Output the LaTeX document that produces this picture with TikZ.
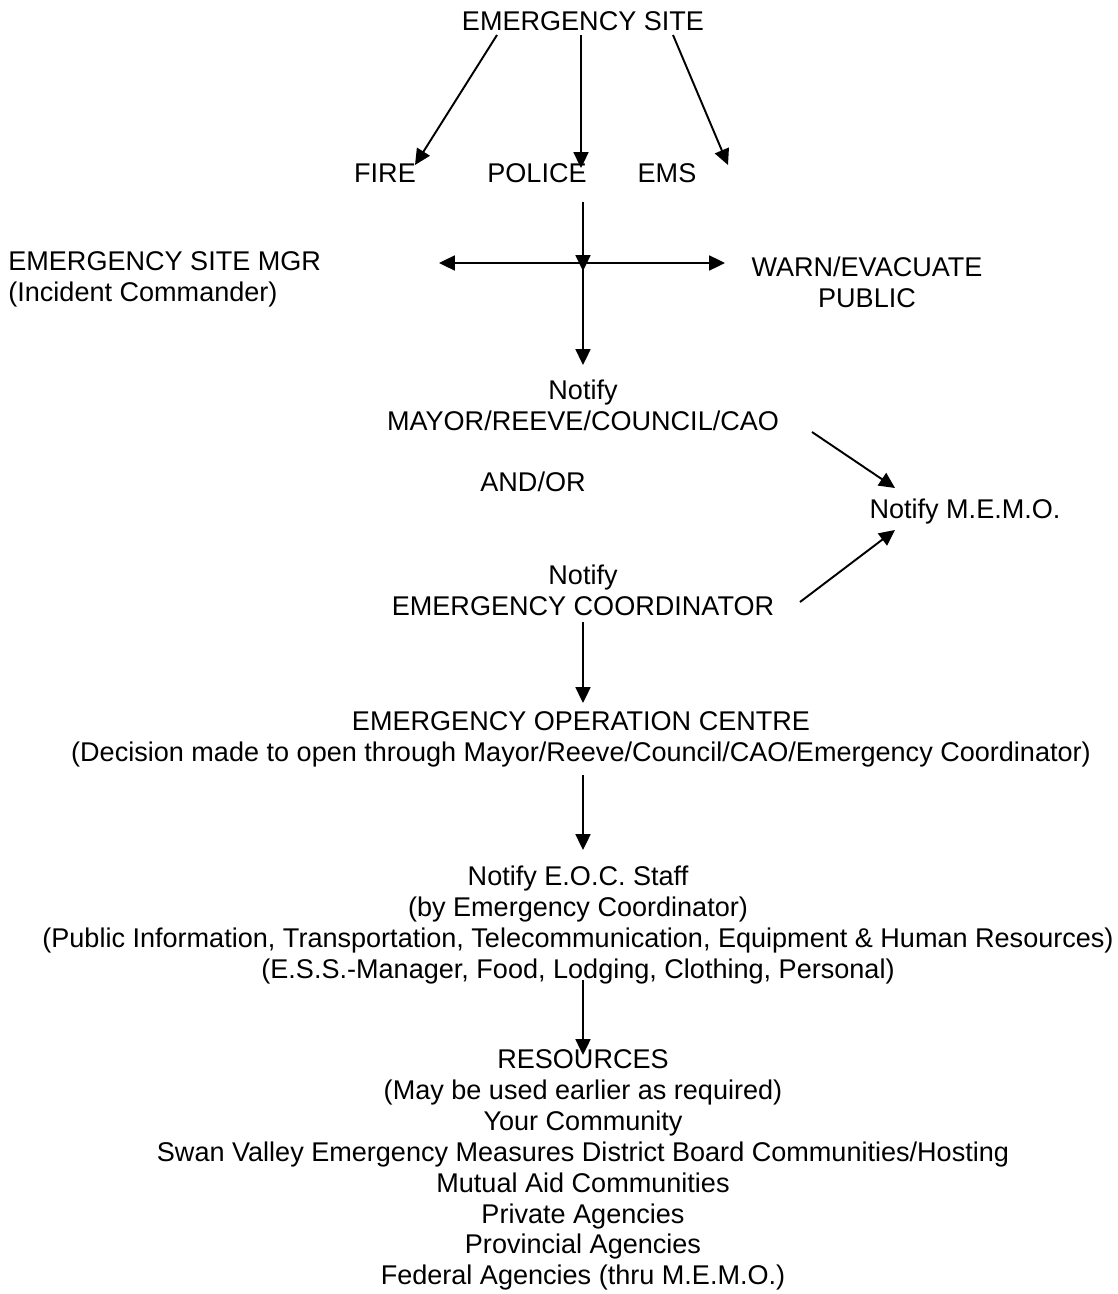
\documentclass[tikz,border=0pt]{standalone}
\usepackage{fontspec}
\setmainfont{Liberation Sans}
\usetikzlibrary{arrows.meta,calc}

\begin{document}
\begin{tikzpicture}[
    x=0.02cm, y=-0.02cm,
    txt/.style={inner sep=0pt, align=center, font=\fontsize{15.4}{17.6}\selectfont},
    arr/.style={-{Triangle[length=9pt,width=8.5pt]}, line width=1.1pt},
    dbl/.style={{Triangle[length=9pt,width=8.5pt]}-{Triangle[length=9pt,width=8.5pt]}, line width=1.1pt}
]
    \useasboundingbox (0,0) rectangle (1117,1294);

    % First response
    \node[txt] (site) at (583,21) {EMERGENCY SITE};
    \node[txt] (fire) at (385,173) {FIRE};
    \node[txt] (police) at (537,173) {POLICE};
    \node[txt] (ems) at (667,173) {EMS};

    \draw[arr] ($(site)+(-86,14)$) -- ($(fire)+(30,-8)$);
    \draw[arr] ($(site)+(-2,14)$) -- ($(police)+(44,-5)$);
    \draw[arr] ($(site)+(90,14)$) -- ($(ems)+(61,-8)$);

    % Site manager / warning
    \node[txt, anchor=west, align=left] (mgr) at (8,279) {EMERGENCY SITE MGR\\(Incident Commander)};
    \node[txt] (warn) at (867,282) {WARN/EVACUATE\\PUBLIC};

    \coordinate (j) at (583,263);
    \coordinate (mgrtip) at (439,263);
    \coordinate (warntip) at (725,263);
    \draw[dbl] (mgrtip) -- (warntip);
    \draw[arr] ($(police)+(46,29)$) -- ($(j)+(0,8)$);

    % Notifications
    \node[txt] (mayor) at (583,405) {Notify\\MAYOR/REEVE/COUNCIL/CAO};
    \node[txt] (andor) at (533,482) {AND/OR};
    \node[txt] (coord) at (583,590) {Notify\\EMERGENCY COORDINATOR};
    \node[txt] (memo) at (965,511) {Notify M.E.M.O.};

    \draw[arr] (j) -- ($(mayor)+(0,-40)$);
    \draw[arr] ($(mayor)+(229,27)$) -- ($(memo)+(-70,-23)$);
    \draw[arr] ($(coord)+(217,12)$) -- ($(memo)+(-70,19)$);

    % E.O.C.
    \node[txt] (eoc) at (581,739) {EMERGENCY OPERATION CENTRE\\(Decision made to open through Mayor/Reeve/Council/CAO/Emergency Coordinator)};
    \node[txt] (staff) at (578,925) {Notify E.O.C. Staff\\(by Emergency Coordinator)\\(Public Information, Transportation, Telecommunication, Equipment \& Human Resources)\\(E.S.S.-Manager, Food, Lodging, Clothing, Personal)};
    \node[txt] (res) at (583,1170) {RESOURCES\\(May be used earlier as required)\\Your Community\\Swan Valley Emergency Measures District Board Communities/Hosting\\Mutual Aid Communities\\Private Agencies\\Provincial Agencies\\Federal Agencies (thru M.E.M.O.)};

    \draw[arr] ($(coord)+(0,32)$) -- ($(eoc)+(2,-36)$);
    \draw[arr] ($(eoc)+(2,36)$) -- ($(staff)+(5,-75)$);
    \draw[arr] ($(staff)+(5,55)$) -- ($(res)+(0,-115)$);
\end{tikzpicture}
\end{document}
